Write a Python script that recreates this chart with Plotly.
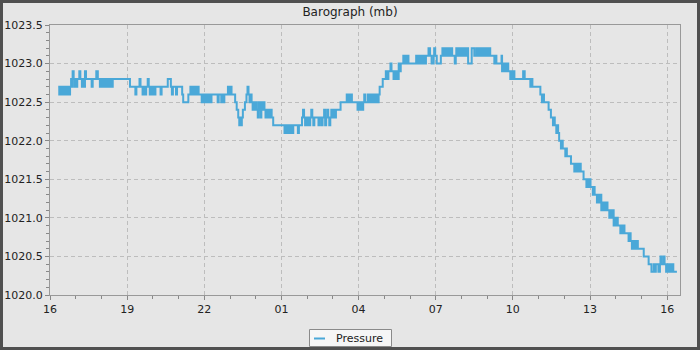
import pandas as pd
import plotly.graph_objects as go

# Readings: (hours after 16:00, pressure in mb), step changes
seg_a = [(0.32,1022.7),(0.36,1022.6),(0.40,1022.7),(0.42,1022.6),(0.48,1022.7),(0.50,1022.6),(0.56,1022.7),
         (0.58,1022.6),(0.64,1022.7),(0.66,1022.6),(0.72,1022.7),(0.74,1022.6),(0.78,1022.7),(0.82,1022.8),
         (0.86,1022.7),(0.88,1022.9),(0.92,1022.8),(0.96,1022.7),(1.00,1022.8),(1.02,1022.7),(1.06,1022.8),
         (1.14,1022.9),(1.18,1022.8),(1.24,1022.7),(1.28,1022.8),(1.32,1022.7),(1.36,1022.9),(1.40,1022.8),
         (1.62,1022.7),(1.66,1022.8),(1.80,1022.9),(1.86,1022.8),(1.94,1022.7),(1.98,1022.8),(2.04,1022.7),
         (2.08,1022.8),(2.12,1022.7),(2.16,1022.8),(2.20,1022.7),(2.26,1022.8),(2.30,1022.7),(2.36,1022.8),
         (2.40,1022.7),(2.44,1022.8),(3.11,1022.7),(3.32,1022.6),(3.36,1022.7),(3.48,1022.8),(3.52,1022.7),
         (3.60,1022.6),(3.64,1022.7),(3.70,1022.6),(3.74,1022.7),(3.80,1022.8),(3.84,1022.7),(3.88,1022.6),
         (3.92,1022.7),(3.96,1022.6),(4.00,1022.7),(4.06,1022.6),(4.10,1022.7),(4.30,1022.6),(4.34,1022.7),
         (4.58,1022.8)]
seg_b = [(4.70,1022.7),(4.74,1022.6),(4.78,1022.7),(4.90,1022.6),(4.94,1022.7),(5.14,1022.6),(5.18,1022.5),
         (5.38,1022.6),(5.46,1022.7),(5.52,1022.6),(5.56,1022.7),(5.60,1022.6),(5.64,1022.7),(5.70,1022.6),
         (5.74,1022.7),(5.78,1022.6),(5.90,1022.5),(5.94,1022.6),(5.98,1022.5),(6.02,1022.6),(6.06,1022.5),
         (6.12,1022.6),(6.16,1022.5),(6.20,1022.6),(6.24,1022.5),(6.28,1022.6),(6.52,1022.5),(6.56,1022.6),
         (6.66,1022.5),(6.70,1022.6),(6.74,1022.5),(6.78,1022.6),(6.92,1022.7),(6.98,1022.6),(7.02,1022.7),
         (7.06,1022.6),(7.20,1022.5),(7.26,1022.4),(7.32,1022.3),(7.36,1022.2),(7.40,1022.3),(7.42,1022.2),
         (7.46,1022.3),(7.50,1022.4),(7.58,1022.5),(7.64,1022.6),(7.68,1022.7),(7.72,1022.6),(7.76,1022.5),
         (7.80,1022.6),(7.84,1022.5),(7.88,1022.4),(7.92,1022.5),(7.96,1022.4),(8.00,1022.5),(8.04,1022.4),
         (8.08,1022.3),(8.12,1022.5),(8.16,1022.4),(8.20,1022.3),(8.22,1022.5),(8.26,1022.4),(8.30,1022.5),
         (8.34,1022.4),(8.38,1022.3),(8.42,1022.4),(8.46,1022.3),(8.50,1022.4),(8.54,1022.3),(8.58,1022.4),
         (8.62,1022.3),(8.68,1022.2),(9.12,1022.1),(9.18,1022.2),(9.22,1022.1),(9.28,1022.2),(9.32,1022.1)]
seg_c = [(9.36,1022.2),(9.42,1022.1),(9.46,1022.2),(9.64,1022.1),(9.68,1022.2),(9.80,1022.3),(9.84,1022.4),
         (9.88,1022.3),(9.92,1022.2),(9.96,1022.3),(10.00,1022.2),(10.04,1022.3),(10.08,1022.2),(10.12,1022.3),
         (10.16,1022.4),(10.20,1022.3),(10.24,1022.2),(10.28,1022.3),(10.44,1022.2),(10.48,1022.3),(10.56,1022.2),
         (10.60,1022.3),(10.66,1022.4),(10.70,1022.2),(10.74,1022.3),(10.78,1022.4),(10.82,1022.3),(10.86,1022.2),
         (10.90,1022.3),(10.94,1022.4),(10.98,1022.3),(11.04,1022.4),(11.08,1022.3),(11.12,1022.4),(11.30,1022.5),
         (11.54,1022.6),(11.58,1022.5),(11.62,1022.6),(11.66,1022.5),(11.70,1022.6),(11.74,1022.5),(11.96,1022.4),
         (12.00,1022.5),(12.04,1022.4),(12.10,1022.5),(12.14,1022.4),(12.18,1022.5),(12.22,1022.6),(12.26,1022.5),
         (12.36,1022.6),(12.40,1022.5),(12.44,1022.6),(12.48,1022.5),(12.52,1022.6),(12.56,1022.5),(12.60,1022.6),
         (12.64,1022.5),(12.70,1022.6),(12.74,1022.5),(12.78,1022.6),(12.82,1022.7),(12.94,1022.8),(13.06,1022.9),
         (13.12,1022.8),(13.16,1022.9),(13.24,1023.0),(13.28,1022.9),(13.36,1022.8),(13.40,1022.9),(13.44,1022.8),
         (13.48,1022.9),(13.52,1022.8),(13.56,1023.0),(13.60,1022.9),(13.64,1023.0),(13.74,1023.1),(13.78,1023.0),
         (13.82,1023.1),(13.86,1023.0),(13.88,1023.1)]
seg_d = [(13.94,1023.0),(14.24,1023.1),(14.28,1023.0),(14.32,1023.1),(14.36,1023.0),(14.38,1023.1),(14.42,1023.0),
         (14.48,1023.1),(14.50,1023.0),(14.56,1023.1),(14.58,1023.0),(14.62,1023.1),(14.72,1023.2),(14.78,1023.1),
         (14.84,1023.0),(14.92,1023.1),(14.94,1023.2),(14.98,1023.1),(15.04,1023.0),(15.20,1023.1),(15.26,1023.2),
         (15.30,1023.1),(15.32,1023.2),(15.36,1023.1),(15.38,1023.2),(15.44,1023.1),(15.46,1023.2),(15.50,1023.1),
         (15.52,1023.2),(15.56,1023.1),(15.60,1023.2),(15.64,1023.1),(15.74,1023.0),(15.78,1023.1),(15.80,1023.2),
         (15.86,1023.1),(15.90,1023.2),(15.94,1023.1),(15.98,1023.2),(16.02,1023.1),(16.06,1023.2),(16.12,1023.1),
         (16.14,1023.2),(16.18,1023.1),(16.22,1023.2),(16.26,1023.0),(16.40,1023.2),(16.50,1023.1),(16.58,1023.2),
         (16.62,1023.1),(16.64,1023.2),(16.68,1023.1),(16.70,1023.2),(16.74,1023.1),(16.76,1023.2),(16.80,1023.1),
         (16.82,1023.2),(16.86,1023.1),(16.88,1023.2),(16.92,1023.1),(16.94,1023.2),(16.98,1023.1),(17.04,1023.2),
         (17.08,1023.1),(17.10,1023.2),(17.12,1023.1),(17.28,1023.0),(17.32,1023.1),(17.36,1023.0),(17.56,1023.1),
         (17.58,1022.9),(17.62,1023.0),(17.66,1022.9),(17.70,1023.0),(17.74,1022.9),(17.78,1023.0),(17.82,1022.9),
         (17.90,1022.8),(17.94,1022.9),(17.98,1022.8),(18.02,1022.9),(18.06,1022.8),(18.40,1022.9),(18.46,1022.8),
         (18.68,1022.7),(18.72,1022.8)]
seg_e = [(18.76,1022.7),(19.07,1022.6),(19.13,1022.5),(19.17,1022.6),(19.21,1022.5),(19.39,1022.4),(19.48,1022.3),
         (19.56,1022.2),(19.60,1022.3),(19.63,1022.2),(19.69,1022.1),(19.74,1022.2),(19.76,1022.1),(19.80,1022.0),
         (19.87,1021.9),(19.90,1022.0),(19.94,1021.9),(20.04,1021.8),(20.08,1021.9),(20.10,1021.8),(20.26,1021.7),
         (20.39,1021.6),(20.44,1021.7),(20.48,1021.6),(20.52,1021.7),(20.56,1021.6),(20.60,1021.7),(20.64,1021.6),
         (20.75,1021.5),(20.86,1021.4),(20.90,1021.5),(20.94,1021.4),(20.98,1021.5),(21.02,1021.4),(21.11,1021.3),
         (21.16,1021.4),(21.18,1021.3),(21.27,1021.2),(21.31,1021.3),(21.35,1021.2),(21.38,1021.3),(21.44,1021.1),
         (21.48,1021.2),(21.52,1021.1),(21.56,1021.2),(21.60,1021.1),(21.64,1021.2),(21.68,1021.1),(21.75,1021.0),
         (21.80,1021.1),(21.84,1021.0),(21.88,1021.1),(21.92,1020.9),(21.96,1021.0),(22.00,1020.9),(22.04,1021.0),
         (22.08,1020.9),(22.18,1020.8),(22.22,1020.9),(22.26,1020.8),(22.30,1020.9),(22.34,1020.8),(22.50,1020.7),
         (22.54,1020.8),(22.58,1020.7),(22.63,1020.6),(22.67,1020.7),(22.70,1020.6),(22.74,1020.7),(22.78,1020.6),
         (22.82,1020.7),(22.86,1020.6),(23.09,1020.5),(23.28,1020.4),(23.39,1020.3),(23.48,1020.4),(23.52,1020.3),
         (23.56,1020.4),(23.66,1020.3),(23.72,1020.4),(23.74,1020.5),(23.78,1020.4),(23.86,1020.5),(23.90,1020.4),
         (23.96,1020.3),(24.00,1020.4),(24.04,1020.3),(24.10,1020.4),(24.14,1020.3),(24.20,1020.4),(24.24,1020.3),
         (24.38,1020.3)]

series_name = "Pressure"
x_tick_labels = ["16", "19", "22", "01", "04", "07", "10", "13", "16"]
y_ticks = [1020.0, 1020.5, 1021.0, 1021.5, 1022.0, 1022.5, 1023.0, 1023.5]

readings = seg_a + seg_b + seg_c + seg_d + seg_e
hours = [h for h, _ in readings]
pressure = [p for _, p in readings]

base = pd.Timestamp("2024-01-01 16:00")
times = [base + pd.Timedelta(hours=h) for h in hours]
tick_vals = [base + pd.Timedelta(hours=3 * i) for i in range(len(x_tick_labels))]

LINE = "#4aa8d8"
FONT = "DejaVu Sans"

W, H = 700, 350
L, R, T, B = 50, 20, 25, 55
pw, ph = W - L - R, H - T - B


def px_x(px):
    return (px - L) / pw


def px_y(py):
    return (H - B - py) / ph


fig = go.Figure()
fig.add_trace(go.Scatter(x=times, y=pressure, mode="lines", line=dict(color=LINE, width=2, shape="hv"),
                         showlegend=False, name=series_name))

shapes = [
    # outer frame
    dict(type="rect", xref="paper", yref="paper",
         x0=px_x(1.5), x1=px_x(W - 1.5), y0=px_y(H - 1.5), y1=px_y(1.5),
         line=dict(color="#505050", width=3), fillcolor="rgba(0,0,0,0)", layer="above"),
    # legend box
    dict(type="rect", xref="paper", yref="paper",
         x0=px_x(309.5), x1=px_x(391.5), y0=px_y(346.5), y1=px_y(329.5),
         line=dict(color="#8a8a8a", width=1), fillcolor="#f6f6f6", layer="above"),
    # legend sample line
    dict(type="line", xref="paper", yref="paper",
         x0=px_x(314), x1=px_x(325), y0=px_y(338.5), y1=px_y(338.5),
         line=dict(color=LINE, width=2), layer="above"),
]

fig.update_layout(
    width=W, height=H,
    margin=dict(l=L, r=R, t=T, b=B, pad=0, autoexpand=False),
    paper_bgcolor="#e6e6e6", plot_bgcolor="#e6e6e6",
    font=dict(family=FONT, size=11, color="#222"),
    title=dict(text="Barograph (mb)", x=0.5, xanchor="center", xref="container",
               y=1 - 12 / H, yanchor="middle", yref="container", font=dict(family=FONT, size=12, color="#222")),
    showlegend=False,
    shapes=shapes,
    annotations=[dict(text=series_name, xref="paper", yref="paper", x=px_x(333.5), y=px_y(338),
                      xanchor="left", yanchor="middle", showarrow=False,
                      font=dict(family=FONT, size=11, color="#222"))],
)

fig.update_xaxes(
    type="date", range=[base, base + pd.Timedelta(hours=24.5)],
    tickmode="array", tickvals=tick_vals, ticktext=x_tick_labels,
    ticks="outside", ticklen=4, tickcolor="#888", tickwidth=1,
    showline=True, linecolor="#999", linewidth=1, mirror=True,
    showgrid=True, gridcolor="#bdbdbd", gridwidth=1, griddash="4px,3px",
    zeroline=False, tickfont=dict(size=11, color="#222"),
    minor=dict(dtick=3600000, tick0=base, ticks="outside", ticklen=3, tickcolor="#888", showgrid=False),
)
fig.update_yaxes(
    range=[1020.0, 1023.5], tickmode="array", tickvals=y_ticks, ticktext=[f"{v:.1f}" for v in y_ticks],
    ticks="outside", ticklen=4, tickcolor="#888", tickwidth=1,
    showline=True, linecolor="#999", linewidth=1, mirror=True,
    showgrid=True, gridcolor="#bdbdbd", gridwidth=1, griddash="4px,3px",
    zeroline=False, tickfont=dict(size=11, color="#222"),
    minor=dict(dtick=0.1, tick0=1020.0, ticks="outside", ticklen=3, tickcolor="#888", showgrid=False),
)

fig.write_html("out.html")
